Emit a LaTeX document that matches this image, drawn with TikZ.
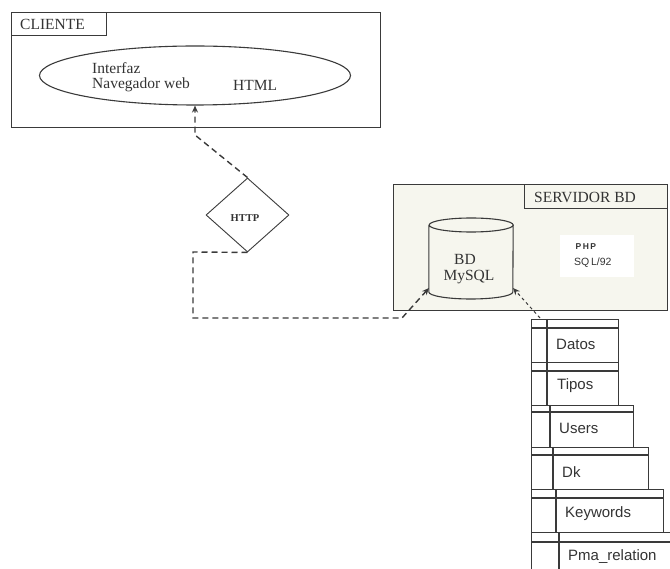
\documentclass[tikz,border=0pt]{standalone}
\usepackage{fontspec}
\setmainfont{Liberation Serif}
\newfontfamily\tablefont{Liberation Sans}
\usetikzlibrary{shapes.geometric,arrows.meta}
\definecolor{ink}{HTML}{3A3A3A}
\definecolor{txt}{HTML}{333333}
\definecolor{beige}{HTML}{F6F6EE}
\tikzset{
  outline/.style={draw=ink,line width=1.1pt},
  boxshape/.style={outline,rectangle,inner sep=0pt,anchor=north west},
  serif/.style={text=txt,font=\fontsize{15.5}{18}\selectfont,inner sep=0pt,anchor=west},
  tablelabel/.style={text=txt,font=\tablefont\fontsize{15}{18}\selectfont,inner sep=0pt,anchor=west},
  link/.style={draw=ink,line width=1.4pt,dash pattern=on 6pt off 4pt},
  thinlink/.style={draw=ink,line width=1pt,dash pattern=on 3pt off 3pt},
  tip/.style={-{Stealth[length=7pt,width=6pt]}},
}
\begin{document}
\begin{tikzpicture}[x=1pt,y=-1pt]
\useasboundingbox (0,0) rectangle (670,569);
% Client
\node[boxshape,minimum width=369pt,minimum height=115pt] (client) at (11,12) {};
\node[boxshape,minimum width=95pt,minimum height=23pt] (clienttag) at (11,12) {};
\node[serif] (clientlabel) at (20,24.5) {CLIENTE};
\node[ellipse,outline,minimum width=311pt,minimum height=59pt,inner sep=0pt] (browser) at (195,75.5) {};
\node[serif] (interfaz) at (92,68) {Interfaz};
\node[serif] (nav) at (92,85) {Navegador web};
\node[serif] (html) at (233,85) {HTML};
% Server
\node[boxshape,fill=beige,minimum width=274pt,minimum height=126pt] (server) at (393,184) {};
\node[boxshape,fill=beige,minimum width=143pt,minimum height=24pt] (servertag) at (524,184) {};
\node[serif] (serverlabel) at (534,197.5) {SERVIDOR BD};
\node[rectangle,fill=white,minimum width=74pt,minimum height=42pt,inner sep=0pt,anchor=north west] (phpbox) at (560,235) {};
\node[text=txt,font=\tablefont\bfseries\fontsize{8.5}{10}\selectfont,inner sep=0pt,anchor=west] (php) at (575.5,247) {P\,H\,P};
\node[text=txt,font=\tablefont\fontsize{10.5}{12}\selectfont,inner sep=0pt,anchor=west] (sql) at (574,263) {SQ\,L/92};
% Cylinder
\node[rectangle,minimum width=84pt,minimum height=81pt,inner sep=0pt] (db) at (471,258.5) {};
\draw[outline] (db.west |- 0,225) -- (db.west |- 0,292)
  arc[start angle=180,end angle=360,x radius=42pt,y radius=7pt]
  -- (db.east |- 0,225)
  arc[start angle=0,end angle=360,x radius=42pt,y radius=7pt];
\node[serif,anchor=center] (bd) at (465,259) {BD};
\node[serif,anchor=center] (mysql) at (469,277) {MySQL};
% HTTP
\node[diamond,draw=ink,line width=.9pt,fill=white,minimum width=83pt,minimum height=74pt,inner sep=0pt] (http) at (247.5,215) {};
\node[text=txt,font=\bfseries\fontsize{10.5}{12}\selectfont,inner sep=0pt] (httplabel) at (245,218) {HTTP};
% Tables
\foreach \nm/\dv/\rg/\tp/\hd/\bt/\lab/\lx/\my in {
  datos/547/618/319/328/362/Datos/556/344,
  tipos/547/618/362/371/405/Tipos/557/386,
  users/550/633/405/412/447/Users/559/428,
  dk/553/648/447/455/489/Dk/562/472,
  keywords/556/663/489/498/532/Keywords/565/514,
  pma/559/672/532/542/580/Pma\_relation/568/557}{
  \node[boxshape,minimum width=\rg pt-531pt,minimum height=\bt pt-\tp pt] (\nm) at (531,\tp) {};
  \coordinate (\nm hl) at (531,\hd);
  \coordinate (\nm hr) at (\rg,\hd);
  \coordinate (\nm dt) at (\dv,\tp);
  \coordinate (\nm db) at (\dv,\bt);
  \draw[outline] (\nm hl) -- (\nm hr);
  \draw[outline] (\nm dt) -- (\nm db);
  \node[tablelabel] (\nm label) at (\lx,\my) {\lab};
}
% Connectors
\coordinate (bend1) at (195,135);
\draw[link,tip] (http.north) -- (bend1) -- (browser.south);
\coordinate (corner1) at (193,252);
\coordinate (corner2) at (193,318);
\coordinate (corner3) at (402,318);
\coordinate (dbleft) at (429,288);
\coordinate (dbright) at (513,288);
\coordinate (datostop) at (540,318);
\draw[link,tip] (http.south) -- (corner1) -- (corner2) -- (corner3) -- (dbleft);
\draw[thinlink,tip] (datostop) -- (dbright);
\end{tikzpicture}
\end{document}
